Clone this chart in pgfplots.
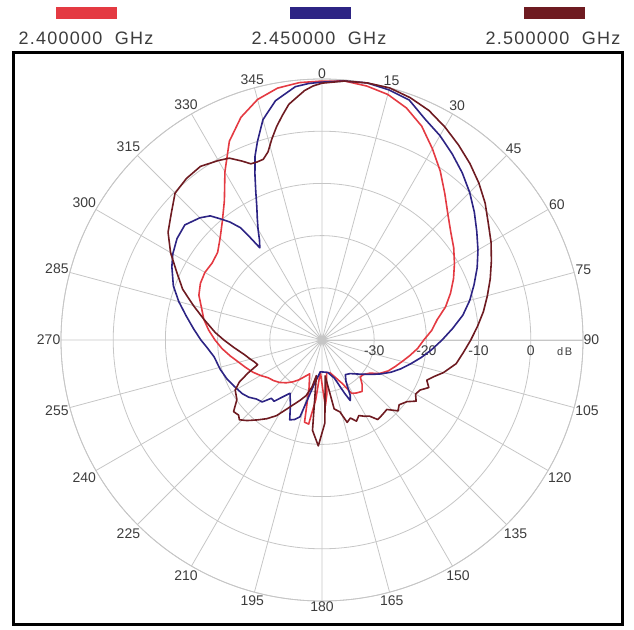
\documentclass[border=0pt]{standalone}
\usepackage{fontspec}
\setmainfont{Liberation Sans}
\usepackage{pgfplots}
\usepackage{pgfplotstable}
\usepgfplotslibrary{polar}
\pgfplotsset{compat=1.18}

\definecolor{cRed}{HTML}{E43A42}
\definecolor{cBlue}{HTML}{2D2484}
\definecolor{cBrown}{HTML}{6E1B21}
\definecolor{gridgray}{HTML}{C6C6C6}
\definecolor{labgray}{HTML}{3C3C3C}

% compass angle (deg, clockwise from top), gain (dB)
\pgfplotstableread{
ang db
0 9.6
5 9.8
10 9.4
15 8.7
20 7.3
25 5.2
30 2.3
35 -0.5
40 -3.4
45 -5.9
50 -7.8
55 -9.2
60 -10.7
65 -12.2
70 -13.8
75 -15.5
80 -17.6
85 -18.9
90 -20.5
95 -21.6
100 -22.9
105 -24.1
110 -25.1
115 -26.0
120 -27.2
125 -28.9
130 -29.7
134 -29.8
138 -28.5
142 -27.5
147 -27.9
151 -28.3
155 -30.8
160 -32.3
166 -33.5
172 -33.7
175 -29.5
177 -27.4
179 -30.4
183 -33.9
186 -28.5
189 -23.7
192 -23.9
195 -30.4
200 -33.1
205 -32.3
210 -31.2
215 -30.2
220 -29.3
225 -28.5
230 -27.9
235 -27.4
240 -26.4
245 -25.4
250 -24.5
255 -23.5
260 -22.2
265 -20.8
270 -19.5
275 -18.2
280 -17.0
285 -16.1
290 -14.9
295 -14.3
300 -14.1
305 -14.3
310 -13.9
315 -12.4
320 -10.3
325 -7.4
330 -2.8
335 2.0
340 5.4
345 7.7
350 9.0
355 9.5
360 9.6
}\redtab

\pgfplotstableread{
ang db
0 9.4
5 9.8
10 10.0
15 9.6
20 8.9
25 6.7
30 5.2
35 3.5
40 1.8
45 0.0
50 -1.9
55 -3.8
60 -5.5
65 -7.2
70 -9.0
75 -10.7
80 -12.6
85 -14.9
90 -17.0
95 -18.9
100 -20.7
105 -22.4
110 -23.9
115 -25.4
120 -27.0
125 -28.5
130 -29.8
135 -30.8
140 -31.6
146 -32.0
150 -30.8
153 -28.1
155 -27.2
157 -28.9
162 -32.3
170 -33.7
183 -33.9
190 -31.4
196 -24.7
199 -23.9
202 -23.5
206 -26.2
211 -28.1
215 -26.6
218 -25.1
221 -25.2
224 -23.5
228 -23.1
232 -22.2
236 -21.6
242 -21.0
248 -20.3
254 -19.7
261 -19.1
266 -18.0
270 -16.8
275 -15.3
280 -13.6
285 -11.6
290 -9.7
296 -8.0
300 -7.0
305 -6.1
310 -5.7
315 -6.9
318 -8.0
320 -9.7
322 -11.3
324 -13.4
325 -16.1
326 -18.7
328 -17.4
330 -15.5
332 -13.6
334 -11.5
336 -8.8
338 -5.7
340 -2.5
342 0.0
345 3.7
349 6.7
354 8.8
357 9.2
360 9.4
}\bluetab

\pgfplotstableread{
ang db
0 9.2
5 9.8
10 10.0
15 10.0
20 9.4
25 8.5
30 7.1
35 5.6
40 4.1
45 2.5
50 0.8
55 -1.1
60 -2.6
65 -4.2
70 -5.7
75 -7.2
80 -8.6
85 -10.1
90 -11.5
95 -12.8
100 -13.9
105 -15.9
108 -17.4
111 -18.5
114 -17.6
117 -18.9
120 -19.3
123 -18.5
126 -19.9
130 -20.7
133 -20.1
137 -21.8
141 -21.6
145 -21.4
148 -22.8
151 -23.3
154 -23.9
157 -23.1
160 -24.1
163 -23.5
166 -25.8
170 -26.6
175 -33.1
178 -24.1
182 -19.7
186 -22.6
189 -33.1
192 -30.8
196 -28.9
200 -27.7
204 -26.4
208 -24.7
211 -23.1
215 -21.6
219 -20.3
223 -18.9
226 -18.0
228 -18.5
231 -18.2
235 -20.1
240 -20.8
243 -22.2
246 -24.5
249 -26.8
252 -26.4
255 -25.8
260 -24.7
265 -23.1
270 -21.2
274 -19.5
280 -17.0
285 -14.5
290 -11.6
295 -9.3
300 -6.5
305 -4.0
310 -2.3
315 -0.2
320 0.4
325 0.6
330 -0.3
333 -0.9
336 -2.5
338 -3.6
340 -3.7
342 -3.6
344 -2.5
346 -0.3
348 1.8
350 3.7
352 5.6
354 6.7
356 7.9
358 8.7
360 9.2
}\browntab

\begin{document}
\begin{tikzpicture}[x=1pt,y=1pt]
\path[use as bounding box] (0,0) rectangle (634,629);
\draw[line width=3pt] (13,5) rectangle (622,576);

% legend
\fill[cRed] (55.5,609.7) rectangle (117.4,621.7);
\fill[cBlue] (289.5,609.7) rectangle (351.4,621.7);
\fill[cBrown] (524,609.7) rectangle (585,621.7);
\begin{scope}[every node/.style={anchor=base, text=labgray,
    font=\fontsize{18}{18}\selectfont\addfontfeatures{LetterSpace=7}}]
\node at (86,584) {2.400000~~GHz};
\node at (319,584) {2.450000~~GHz};
\node at (553,584) {2.500000~~GHz};
\end{scope}

\begin{polaraxis}[
  at={(322pt,289pt)}, anchor=center,
  scale only axis, width=522pt, height=522pt,
  ymin=0, ymax=50,
  xtick={0,15,...,345},
  xticklabels={90,75,60,45,30,15,0,345,330,315,300,285,270,255,240,225,210,195,180,165,150,135,120,105},
  ytick={10,20,30,40,50},
  yticklabels={-30,-20,-10,0,},
  grid=major,
  major grid style={gridgray, line width=0.8pt},
  axis line style={gridgray, line width=0.8pt},
  major tick length=0pt,
  clip=false,
  xticklabel style={font=\fontsize{14}{14}\selectfont, text=labgray, inner sep=0.5pt},
  yticklabel style={font=\fontsize{14}{14}\selectfont, text=labgray, anchor=north, yshift=-2pt},
]
\addplot[cRed, line width=1.6pt, line join=round]
  table[x expr=90-\thisrow{ang}, y expr=\thisrow{db}+40] {\redtab};
\addplot[cBlue, line width=1.6pt, line join=round]
  table[x expr=90-\thisrow{ang}, y expr=\thisrow{db}+40] {\bluetab};
\addplot[cBrown, line width=1.6pt, line join=round]
  table[x expr=90-\thisrow{ang}, y expr=\thisrow{db}+40] {\browntab};
\node[anchor=north, text=labgray, yshift=-4pt,
  font=\fontsize{11}{11}\selectfont\addfontfeatures{LetterSpace=15}]
  at (axis cs:0,46.5) {dB};
\end{polaraxis}
\end{tikzpicture}
\end{document}
